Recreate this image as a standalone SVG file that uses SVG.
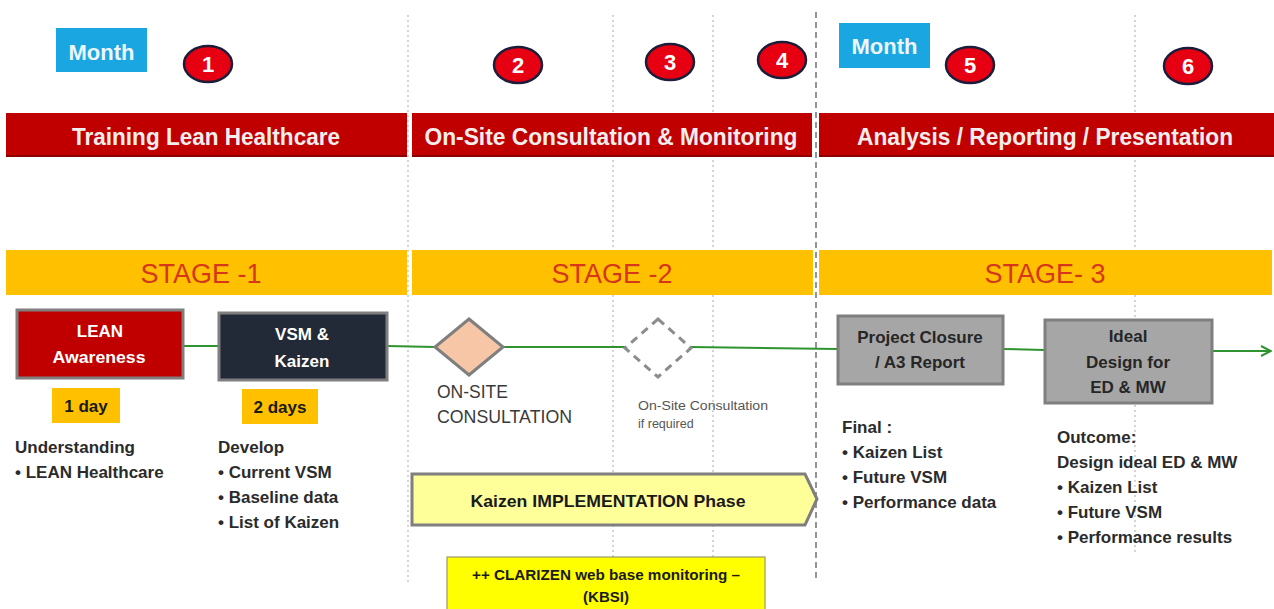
<svg xmlns="http://www.w3.org/2000/svg" width="1274" height="609" viewBox="0 0 1274 609">
<defs>
<style>
.vl{stroke:#b8b8b8;stroke-width:1.2;stroke-dasharray:2 3;fill:none}
.vd{stroke:#707070;stroke-width:1.5;stroke-dasharray:6 4;fill:none}
.month{fill:#1aa7e1}
.mt{font-family:"Liberation Sans",Arial,sans-serif;font-weight:bold;font-size:22px;fill:#eef6fb;text-anchor:middle}
.num{fill:#e60012;stroke:#1b1d3a;stroke-width:2.5}
.nt{font-family:"Liberation Sans",Arial,sans-serif;font-weight:bold;font-size:22px;fill:#ffffff;text-anchor:middle}
.band{fill:#c00000}
.bandb{fill:#8e0000}
.bt{font-family:"Liberation Sans",Arial,sans-serif;font-weight:bold;font-size:24px;fill:#f3eeee;text-anchor:middle}
.stage{fill:#ffc000}
.st{font-family:"Liberation Sans",Arial,sans-serif;font-size:27px;fill:#d6361c;text-anchor:middle}
.box{stroke:#7f7f7f;stroke-width:3}
.wt{font-family:"Liberation Sans",Arial,sans-serif;font-weight:bold;font-size:17px;fill:#ffffff;text-anchor:middle}
.gt{font-family:"Liberation Sans",Arial,sans-serif;font-weight:bold;font-size:17px;fill:#262626;text-anchor:middle}
.dt{font-family:"Liberation Sans",Arial,sans-serif;font-weight:bold;font-size:17px;fill:#1a1a1a;text-anchor:middle}
.body{font-family:"Liberation Sans",Arial,sans-serif;font-weight:bold;font-size:17px;fill:#2b2b2b}
.reg{font-family:"Liberation Sans",Arial,sans-serif;font-size:17.5px;fill:#3a3a3a}
.small{font-family:"Liberation Sans",Arial,sans-serif;font-size:12.5px;fill:#555555}
.ct{font-family:"Liberation Sans",Arial,sans-serif;font-weight:bold;font-size:15px;fill:#1a1a1a;text-anchor:middle}
.conn{stroke:#2f942f;stroke-width:2;fill:none}
</style>
<marker id="arr" viewBox="0 0 12 12" refX="11" refY="6" markerWidth="12" markerHeight="12" markerUnits="userSpaceOnUse" orient="auto">
<path d="M1,1 L11,6 L1,11" fill="none" stroke="#2f942f" stroke-width="2"/>
</marker>
</defs>
<rect x="0" y="0" width="1274" height="609" fill="#ffffff"/>

<g id="gridlines">
<line class="vl" x1="408" y1="15" x2="408" y2="585"/>
<line class="vl" x1="613" y1="15" x2="613" y2="585"/>
<line class="vl" x1="713" y1="15" x2="713" y2="585"/>
<line class="vd" x1="816" y1="12" x2="816" y2="582"/>
<line class="vl" x1="1135" y1="15" x2="1135" y2="555"/>
</g>

<g id="month1"><rect class="month" x="56" y="28" width="91" height="44"/><text class="mt" x="101.5" y="60">Month</text></g>
<g id="month2"><rect class="month" x="839" y="23" width="91" height="45"/><text class="mt" x="884.5" y="54">Month</text></g>

<g id="m1"><ellipse class="num" cx="208" cy="64" rx="24" ry="18"/><text class="nt" x="208" y="72">1</text></g>
<g id="m2"><ellipse class="num" cx="518" cy="65" rx="24" ry="18"/><text class="nt" x="518" y="73">2</text></g>
<g id="m3"><ellipse class="num" cx="670" cy="62" rx="24" ry="18"/><text class="nt" x="670" y="70">3</text></g>
<g id="m4"><ellipse class="num" cx="782" cy="60" rx="24" ry="18"/><text class="nt" x="782" y="68">4</text></g>
<g id="m5"><ellipse class="num" cx="970" cy="65" rx="24" ry="18"/><text class="nt" x="970" y="73">5</text></g>
<g id="m6"><ellipse class="num" cx="1188" cy="66" rx="24" ry="18"/><text class="nt" x="1188" y="74">6</text></g>

<g id="band1"><rect class="band" x="6" y="113" width="401" height="44"/><rect class="bandb" x="6" y="155" width="401" height="2"/><text class="bt" x="206" y="145" textLength="268" lengthAdjust="spacingAndGlyphs">Training Lean Healthcare</text></g>
<g id="band2"><rect class="band" x="412" y="113" width="400" height="44"/><rect class="bandb" x="412" y="155" width="400" height="2"/><text class="bt" x="611" y="145" textLength="373" lengthAdjust="spacingAndGlyphs">On-Site Consultation &amp; Monitoring</text></g>
<g id="band3"><rect class="band" x="819" y="113" width="455" height="44"/><rect class="bandb" x="819" y="155" width="455" height="2"/><text class="bt" x="1045" y="145" textLength="376" lengthAdjust="spacingAndGlyphs">Analysis / Reporting / Presentation</text></g>

<g id="stage1"><rect class="stage" x="6" y="250" width="401" height="45"/><text class="st" x="201" y="283">STAGE -1</text></g>
<g id="stage2"><rect class="stage" x="412" y="250" width="401" height="45"/><text class="st" x="612" y="283">STAGE -2</text></g>
<g id="stage3"><rect class="stage" x="819" y="250" width="453" height="45"/><text class="st" x="1045" y="283">STAGE- 3</text></g>

<g id="connectors">
<line class="conn" x1="183" y1="346" x2="218" y2="346"/>
<line class="conn" x1="387" y1="346" x2="435" y2="347"/>
<line class="conn" x1="503" y1="347" x2="625" y2="347"/>
<line class="conn" x1="691" y1="347" x2="837" y2="349"/>
<line class="conn" x1="1003" y1="349" x2="1044" y2="350"/>
<line class="conn" x1="1212" y1="351" x2="1271" y2="351" marker-end="url(#arr)"/>
</g>

<g id="lean"><rect class="box" x="17" y="310" width="166" height="68" fill="#c00000"/><text class="wt" x="100" y="337">LEAN</text><text class="wt" x="99" y="363" textLength="93" lengthAdjust="spacingAndGlyphs">Awareness</text></g>
<g id="vsm"><rect class="box" x="219" y="313" width="168" height="67" fill="#222a37"/><text class="wt" x="302" y="340">VSM &amp;</text><text class="wt" x="302" y="367">Kaizen</text></g>

<g id="day1"><rect x="52" y="388" width="68" height="35" fill="#ffc000"/><text class="dt" x="86" y="412">1 day</text></g>
<g id="day2"><rect x="242" y="389" width="76" height="35" fill="#ffc000"/><text class="dt" x="280" y="413">2 days</text></g>

<g id="desc1">
<text class="body" x="15" y="453">Understanding</text>
<text class="body" x="15" y="478">• LEAN Healthcare</text>
</g>
<g id="desc2">
<text class="body" x="218" y="453">Develop</text>
<text class="body" x="218" y="478">• Current VSM</text>
<text class="body" x="218" y="503">• Baseline data</text>
<text class="body" x="218" y="528">• List of Kaizen</text>
</g>

<g id="onsite">
<polygon points="469,319 503,347 469,375 435,347" fill="#f7c6a6" stroke="#7f7f7f" stroke-width="3"/>
<text class="reg" x="437" y="398">ON-SITE</text>
<text class="reg" x="437" y="423" textLength="135" lengthAdjust="spacingAndGlyphs">CONSULTATION</text>
</g>
<g id="onsite2">
<polygon points="658,319 691,348 658,377 625,348" fill="#ffffff" stroke="#8c8c8c" stroke-width="3" stroke-dasharray="8 6"/>
<text class="small" x="638" y="410" textLength="130" lengthAdjust="spacingAndGlyphs">On-Site Consultation</text>
<text class="small" x="638" y="428">if required</text>
</g>

<g id="kaizen">
<polygon points="412,474 805,474 817,499 805,525 412,525" fill="#ffff99" stroke="#7f7f7f" stroke-width="3"/>
<text class="dt" x="608" y="507" textLength="275" lengthAdjust="spacingAndGlyphs">Kaizen IMPLEMENTATION Phase</text>
</g>

<g id="clarizen">
<rect x="447" y="557" width="318" height="56" fill="#ffff00" stroke="#9a9a6a" stroke-width="1.2"/>
<text class="ct" x="606" y="580" textLength="268" lengthAdjust="spacingAndGlyphs">++ CLARIZEN web base monitoring –</text>
<text class="ct" x="606" y="602">(KBSI)</text>
</g>

<g id="closure"><rect class="box" x="838" y="316" width="165" height="68" fill="#a6a6a6"/><text class="gt" x="920" y="343">Project Closure</text><text class="gt" x="920" y="368">/ A3 Report</text></g>
<g id="ideal"><rect class="box" x="1045" y="320" width="167" height="83" fill="#a6a6a6"/><text class="gt" x="1128" y="342">Ideal</text><text class="gt" x="1128" y="368">Design for</text><text class="gt" x="1128" y="393">ED &amp; MW</text></g>

<g id="desc3">
<text class="body" x="842" y="433">Final :</text>
<text class="body" x="842" y="458">• Kaizen List</text>
<text class="body" x="842" y="483">• Future VSM</text>
<text class="body" x="842" y="508">• Performance data</text>
</g>
<g id="desc4">
<text class="body" x="1057" y="443">Outcome:</text>
<text class="body" x="1057" y="468">Design ideal ED &amp; MW</text>
<text class="body" x="1057" y="493">• Kaizen List</text>
<text class="body" x="1057" y="518">• Future VSM</text>
<text class="body" x="1057" y="543">• Performance results</text>
</g>
</svg>
